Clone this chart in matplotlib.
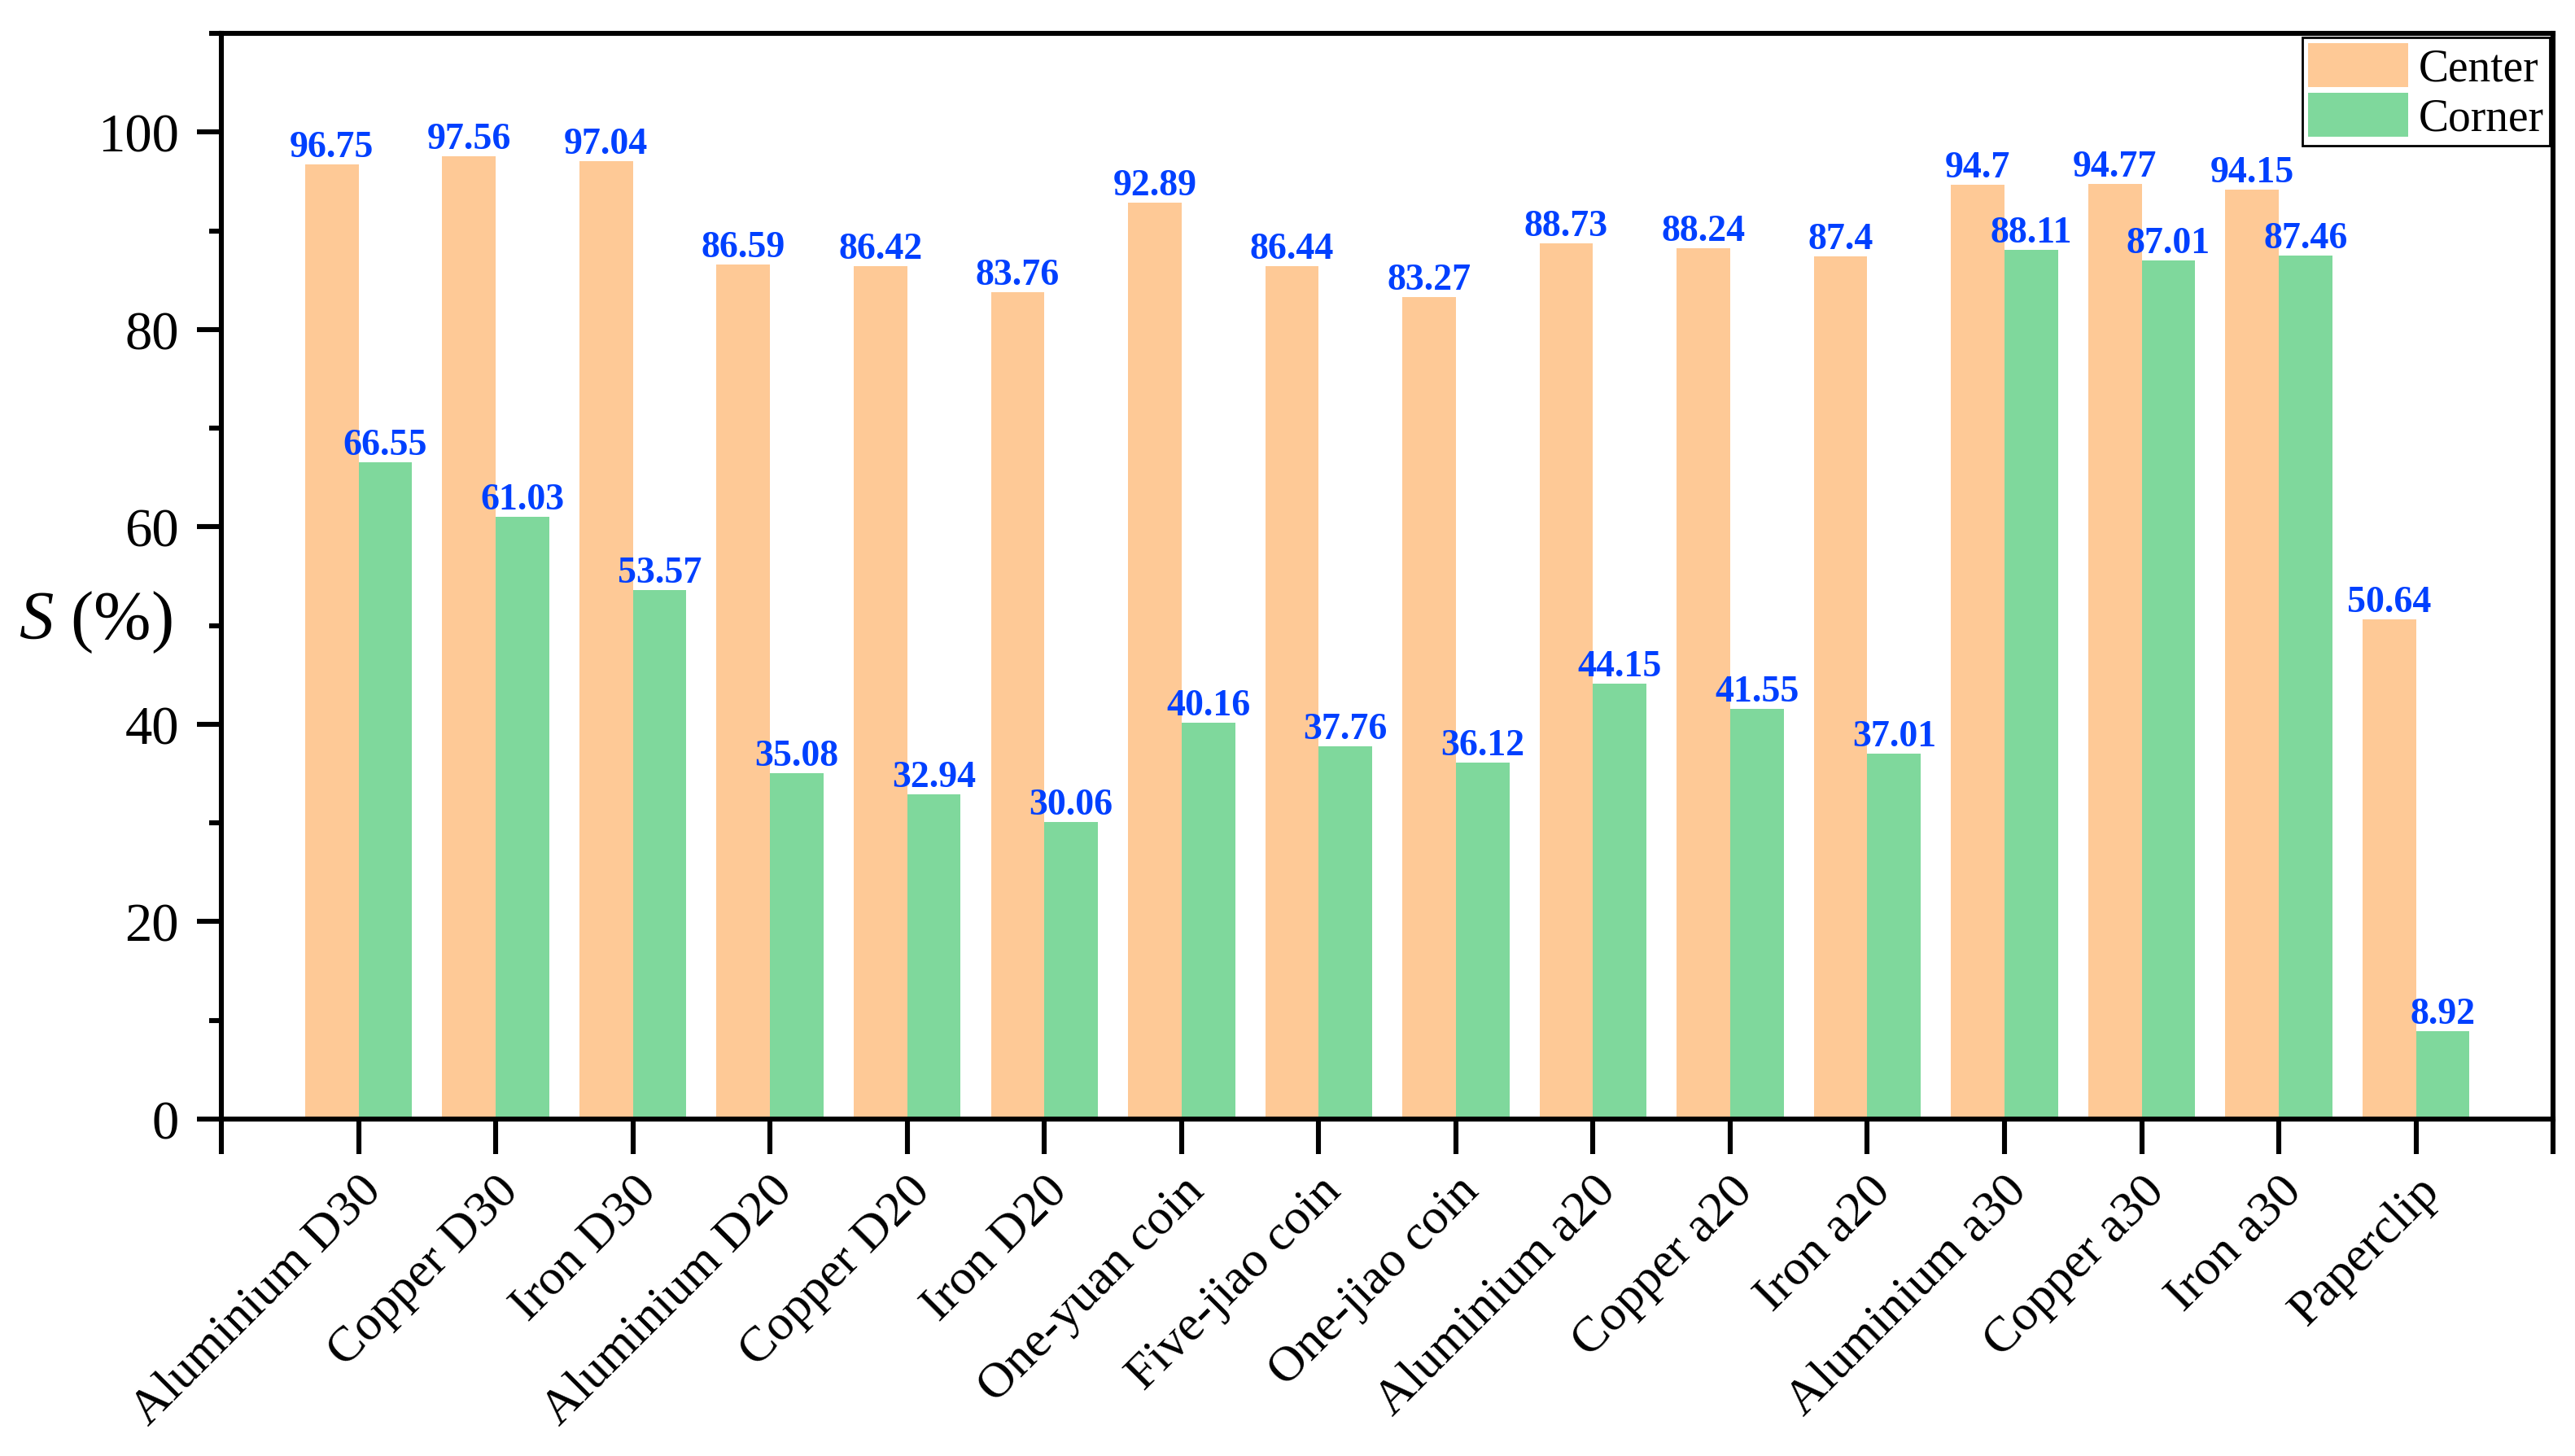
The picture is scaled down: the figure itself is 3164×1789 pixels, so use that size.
import numpy as np
import matplotlib
matplotlib.use('Agg')
import matplotlib.pyplot as plt
import matplotlib.transforms as mtransforms
from matplotlib.ticker import MultipleLocator, AutoMinorLocator

plt.rcParams['font.family'] = ['Liberation Serif', 'DejaVu Serif']
plt.rcParams['mathtext.fontset'] = 'custom'
plt.rcParams['mathtext.rm'] = 'Liberation Serif'
plt.rcParams['mathtext.it'] = 'Liberation Serif:italic'

# data
categories = ['Aluminium D30', 'Copper D30', 'Iron D30', 'Aluminium D20', 'Copper D20',
              'Iron D20', 'One-yuan coin', 'Five-jiao coin', 'One-jiao coin', 'Aluminium a20',
              'Copper a20', 'Iron a20', 'Aluminium a30', 'Copper a30', 'Iron a30', 'Paperclip']
center = [96.75, 97.56, 97.04, 86.59, 86.42, 83.76, 92.89, 86.44, 83.27, 88.73,
          88.24, 87.4, 94.7, 94.77, 94.15, 50.64]
corner = [66.55, 61.03, 53.57, 35.08, 32.94, 30.06, 40.16, 37.76, 36.12, 44.15,
          41.55, 37.01, 88.11, 87.01, 87.46, 8.92]

c_orange = '#FEC996'
c_green = '#7FD89C'
c_blue = '#0040FF'

fig = plt.figure(figsize=(15.82, 8.95), dpi=200)
ax = fig.add_axes([0.086, 0.2313, 0.9055, 0.7452])

x = np.arange(1, len(categories) + 1)
w = 0.39
b1 = ax.bar(x - w / 2, center, w, color=c_orange, label='Center')
b2 = ax.bar(x + w / 2, corner, w, color=c_green, label='Corner')
ax.bar_label(b1, labels=['{:g}'.format(v) for v in center], padding=0,
             color=c_blue, fontsize=16.5, fontweight='bold')
ax.bar_label(b2, labels=['{:g}'.format(v) for v in corner], padding=0,
             color=c_blue, fontsize=16.5, fontweight='bold')

ax.set_xlim(0, 17)
ax.set_ylim(0, 110)
ax.set_xticks(np.arange(0, 18))
ax.set_xticklabels([''] + categories + [''], rotation=45, ha='right',
                   rotation_mode='anchor', fontsize=22.3)
shift = mtransforms.ScaledTranslation(5 / 72, 0, fig.dpi_scale_trans)
for lab in ax.get_xticklabels():
    lab.set_transform(lab.get_transform() + shift)

ax.yaxis.set_major_locator(MultipleLocator(20))
ax.yaxis.set_minor_locator(AutoMinorLocator(2))
ax.tick_params(axis='y', which='major', direction='out', length=10.8, width=2.2,
               labelsize=24, pad=8)
ax.tick_params(axis='y', which='minor', direction='out', length=5.4, width=2.2)
ax.tick_params(axis='x', which='major', direction='out', length=15.5, width=2.2, pad=6)
for s in ax.spines.values():
    s.set_linewidth(2.2)

ax.set_ylabel('$S$ (%)', fontsize=30.5, rotation=0, ha='center', va='center')
ax.yaxis.set_label_coords(-0.0539, 0.458)

leg = ax.legend(loc='upper right', bbox_to_anchor=(1, 1), borderaxespad=0.08,
                fontsize=20, fancybox=False, edgecolor='black', framealpha=1,
                handlelength=2.2, handleheight=1.12, labelspacing=0.06,
                handletextpad=0.23, borderpad=0.13)
leg.get_frame().set_linewidth(1.0)

plt.savefig('out.png', dpi=200)
